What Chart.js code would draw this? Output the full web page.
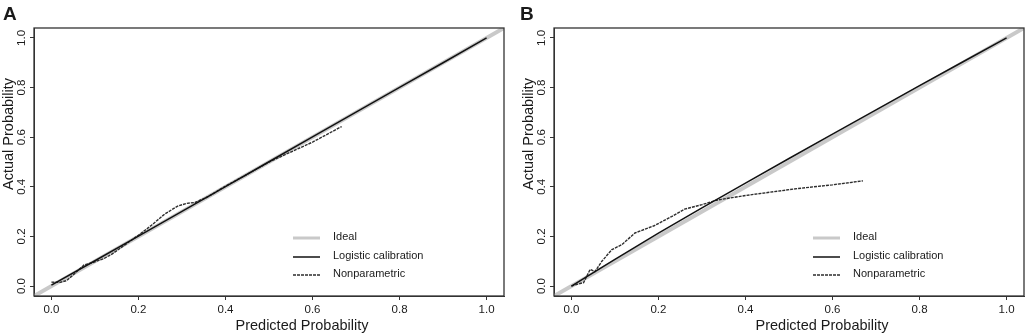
<!DOCTYPE html>
<html>
<head>
<meta charset="utf-8">
<script src="https://cdn.jsdelivr.net/npm/chart.js@4/dist/chart.umd.min.js"></script>
<style>
  html, body { margin: 0; padding: 0; background: #fff; }
  #wrap { position: relative; width: 1026px; height: 334px; }
  canvas { position: absolute; top: 0; }
</style>
</head>
<body>
<div id="wrap">
  <canvas id="panelA" width="513" height="334" style="left:0px"></canvas>
  <canvas id="panelB" width="513" height="334" style="left:513px"></canvas>
</div>
<script>
// Calibration plots, panel A and panel B

// axis range and ticks (same on both axes)
var axisRange = [-0.04, 1.04];
var tickValues = [0, 0.2, 0.4, 0.6, 0.8, 1.0];
var seriesLabels = ['Ideal', 'Logistic calibration', 'Nonparametric'];

// ideal line: y = x across the whole plot
var idealX = [-0.04, 1.04];

// logistic calibration curves
var logisticX = [0, 0.1, 0.2, 0.3, 0.4, 0.5, 0.6, 0.7, 0.8, 0.9, 1.0];
var logisticA = [0.004, 0.102, 0.201, 0.301, 0.401, 0.501, 0.601, 0.701, 0.801, 0.9, 1.0];
var logisticB = [0.0, 0.108, 0.213, 0.315, 0.415, 0.514, 0.612, 0.71, 0.808, 0.904, 1.0];

// nonparametric (lowess) curves
var nonparAx = [0.0, 0.02, 0.035, 0.05, 0.075, 0.095, 0.12, 0.14, 0.16, 0.2, 0.23, 0.26, 0.29, 0.31, 0.33, 0.36, 0.4, 0.45, 0.5, 0.55, 0.6, 0.667];
var nonparAy = [0.016, 0.015, 0.022, 0.045, 0.085, 0.095, 0.11, 0.13, 0.155, 0.205, 0.245, 0.29, 0.322, 0.333, 0.337, 0.36, 0.403, 0.45, 0.5, 0.54, 0.58, 0.643];
var nonparBx = [0.0, 0.015, 0.028, 0.043, 0.054, 0.07, 0.093, 0.116, 0.146, 0.19, 0.23, 0.26, 0.3, 0.333, 0.4, 0.455, 0.52, 0.6, 0.67];
var nonparBy = [0.0, 0.008, 0.014, 0.067, 0.058, 0.1, 0.147, 0.167, 0.214, 0.243, 0.28, 0.31, 0.328, 0.346, 0.365, 0.378, 0.393, 0.408, 0.424];

var FONT = "'Liberation Sans', Arial, Helvetica, sans-serif";
var TEXT = '#1a1a1a';
var AXIS = '#333333';

function pts(xs, ys) {
    return xs.map(function (x, i) { return { x: x, y: ys[i] }; });
}

// box, legend and titles drawn on top of the chart
var decorPlugin = {
    id: 'decor',
    afterDatasetsDraw: function (chart) {
        var a = chart.chartArea, ctx = chart.ctx;
        ctx.save();
        ctx.strokeStyle = AXIS;
        ctx.lineWidth = 1.3;
        ctx.strokeRect(a.left, a.top, a.right - a.left, a.bottom - a.top);
        ctx.restore();
    },
    afterDraw: function (chart) {
        var a = chart.chartArea, ctx = chart.ctx;
        var o = chart.options.plugins.decor;
        ctx.save();

        // legend
        var rows = [-58, -39, -21];
        chart.data.datasets.forEach(function (ds, i) {
            var y = a.bottom + rows[i];
            ctx.beginPath();
            ctx.strokeStyle = ds.borderColor;
            ctx.lineWidth = i === 0 ? 3 : ds.borderWidth;
            ctx.setLineDash(ds.borderDash || []);
            ctx.moveTo(a.left + 259, y);
            ctx.lineTo(a.left + 286, y);
            ctx.stroke();
            ctx.setLineDash([]);
            ctx.fillStyle = TEXT;
            ctx.font = '11px ' + FONT;
            ctx.textBaseline = 'middle';
            ctx.textAlign = 'left';
            ctx.fillText(ds.label, a.left + 299, y - 1);
        });

        // panel letter
        ctx.font = 'bold 19px ' + FONT;
        ctx.textBaseline = 'alphabetic';
        ctx.fillText(o.letter, o.letterX, 20);

        // axis titles
        ctx.font = '14.5px ' + FONT;
        ctx.textAlign = 'center';
        ctx.textBaseline = 'middle';
        ctx.fillText('Predicted Probability', a.left + 268, 326);
        ctx.translate(a.left - 25, 134);
        ctx.rotate(-Math.PI / 2);
        ctx.fillText('Actual Probability', 0, 0);
        ctx.restore();
    }
};

function axis(isX, plotLeft) {
    var cfg = {
        type: 'linear',
        min: axisRange[0],
        max: axisRange[1],
        afterBuildTicks: function (scale) {
            scale.ticks = tickValues.map(function (v) { return { value: v }; });
        },
        ticks: {
            callback: function (v) { return v.toFixed(1); },
            font: { family: FONT, size: 11.5 },
            color: TEXT,
            autoSkip: false,
            padding: 3
        },
        grid: { drawOnChartArea: false, drawTicks: true, tickLength: 4, color: AXIS },
        border: { display: true, color: AXIS, width: 1 }
    };
    if (isX) {
        cfg.ticks.maxRotation = 0;
        cfg.afterFit = function (scale) { scale.height = 38; };
    } else {
        cfg.ticks.minRotation = 90;
        cfg.ticks.maxRotation = 90;
        cfg.ticks.crossAlign = 'center';
        cfg.ticks.padding = 0;
        cfg.afterFit = function (scale) { scale.width = plotLeft; };
    }
    return cfg;
}

function makePanel(id, letter, letterX, plotLeft, padRight, logisticY, npX, npY) {
    new Chart(document.getElementById(id), {
        type: 'scatter',
        data: {
            datasets: [{
                label: seriesLabels[0],
                data: pts(idealX, idealX),
                showLine: true,
                borderColor: '#c9c9c9',
                borderWidth: 4,
                pointRadius: 0,
                clip: 0,
                order: 3
            }, {
                label: seriesLabels[1],
                data: pts(logisticX, logisticY),
                showLine: true,
                borderColor: '#111111',
                borderWidth: 1.5,
                pointRadius: 0,
                order: 1
            }, {
                label: seriesLabels[2],
                data: pts(npX, npY),
                showLine: true,
                borderColor: '#2e2e2e',
                borderWidth: 1.4,
                borderDash: [3, 1],
                pointRadius: 0,
                order: 2
            }]
        },
        options: {
            responsive: false,
            animation: false,
            layout: { padding: { top: 28, right: padRight, left: 0, bottom: 0 } },
            scales: { x: axis(true, plotLeft), y: axis(false, plotLeft) },
            plugins: {
                legend: { display: false },
                tooltip: { enabled: false },
                decor: { letter: letter, letterX: letterX }
            }
        },
        plugins: [decorPlugin]
    });
}

makePanel('panelA', 'A', 3, 34, 9, logisticA, nonparAx, nonparAy);
makePanel('panelB', 'B', 7, 41, 2, logisticB, nonparBx, nonparBy);
</script>
</body>
</html>
